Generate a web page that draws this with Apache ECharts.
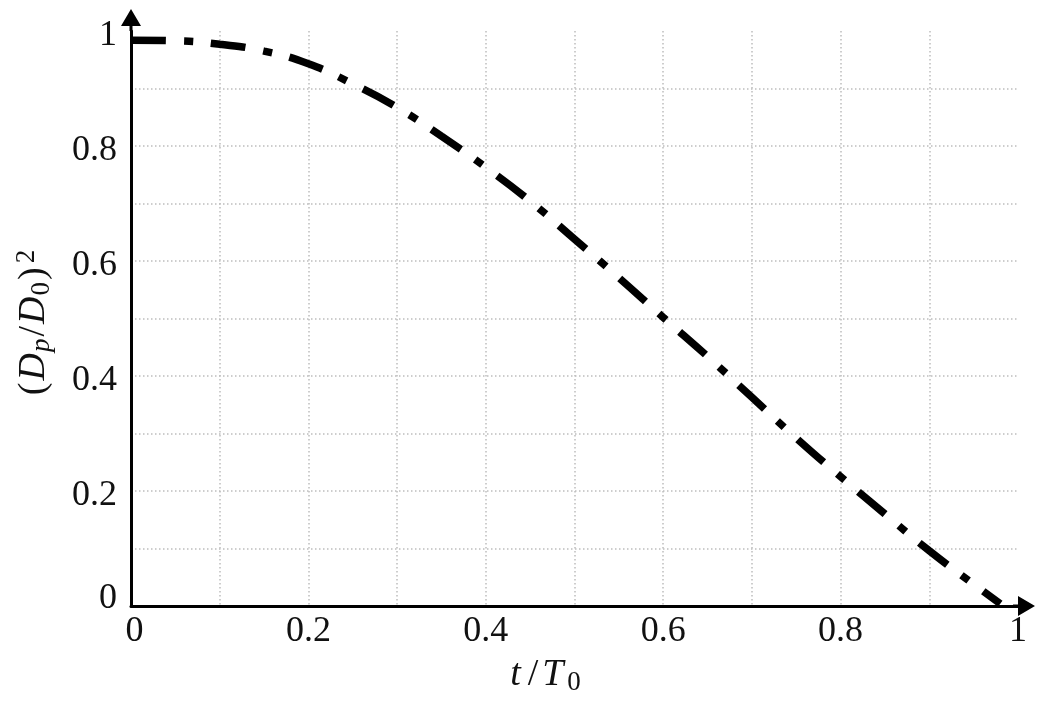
<!DOCTYPE html>
<html>
<head>
<meta charset="utf-8">
<script src="https://cdn.jsdelivr.net/npm/echarts@6/dist/echarts.min.js"></script>
<style>html,body{margin:0;padding:0;background:#fff;}#chart{width:1050px;height:705px;}</style>
</head>
<body>
<div id="chart"></div>
<script>
// t / T0 sample positions
var tValues = [0, 0.05, 0.1, 0.15, 0.2, 0.25, 0.3, 0.35, 0.4, 0.45, 0.5, 0.55, 0.6, 0.65, 0.7, 0.75, 0.8, 0.85, 0.9, 0.95, 0.98];
// (Dp/D0)^2 values
var dpValues = [0.984, 0.983, 0.977, 0.965, 0.943, 0.908, 0.867, 0.817, 0.763, 0.704, 0.638, 0.571, 0.502, 0.434, 0.363, 0.292, 0.225, 0.160, 0.096, 0.038, 0.004];
var xTickLabels = ['0', '0.2', '0.4', '0.6', '0.8', '1'];
var yTickLabels = ['0', '0.2', '0.4', '0.6', '0.8', '1'];

var seriesData = tValues.map(function (t, i) { return [t, dpValues[i]]; });
var SERIF = '"Liberation Serif", "DejaVu Serif", serif';
var arrowPath = 'path://M0,17 L10,0 L20,17 L11.5,17 L11.5,22 L8.5,22 L8.5,17 Z';

function tickFmt(labels, firstStyle, otherStyle) {
  return function (v) {
    var k = Math.round(v * 10);
    if (k % 2 !== 0) return '';
    var s = labels[k / 2];
    if (s === undefined) return '';
    return '{' + (k === 0 ? firstStyle : otherStyle) + '|' + s + '}';
  };
}
function lbl(extra) {
  var o = {fontFamily: SERIF, fontSize: 36, color: '#111'};
  for (var k in extra) o[k] = extra[k];
  return o;
}

var chart = echarts.init(document.getElementById('chart'), null, {renderer: 'canvas'});
chart.setOption({
  backgroundColor: '#ffffff',
  animation: false,
  grid: {left: 131, right: 32, top: 31, bottom: 99, containLabel: false, outerBoundsMode: 'none'},
  xAxis: {
    type: 'value', min: 0, max: 1, interval: 0.1,
    axisLine: {show: true, onZero: false, symbol: ['none', arrowPath], symbolSize: [20, 22], symbolOffset: [0, 6],
      lineStyle: {color: '#000', width: 3}},
    axisTick: {show: false},
    axisLabel: {formatter: tickFmt(xTickLabels, 'z', 'n'), fontFamily: SERIF, fontSize: 36, color: '#111', margin: 8,
      showMinLabel: true, showMaxLabel: true,
      rich: {n: lbl({}), z: lbl({padding: [0, 0, 0, 7]})}},
    splitLine: {show: true, showMinLine: false, showMaxLine: false,
      lineStyle: {color: '#bdbdbd', width: 1.5, type: [1.5, 2.5]}},
    name: '{it|t}{r|/}{i|T}{s|0}',
    nameLocation: 'middle', nameGap: 48,
    nameTextStyle: {
      padding: [0, 58, 0, 0],
      rich: {
        it: {fontFamily: SERIF, fontStyle: 'italic', fontSize: 38, color: '#111', lineHeight: 42, padding: [0, 3, 0, 0]},
        i: {fontFamily: SERIF, fontStyle: 'italic', fontSize: 38, color: '#111', lineHeight: 42, padding: [0, 4, 0, 0]},
        r: {fontFamily: SERIF, fontSize: 38, color: '#111', lineHeight: 42, padding: [0, 4, 0, 4]},
        s: {fontFamily: SERIF, fontSize: 27, color: '#111', lineHeight: 26, verticalAlign: 'bottom'}
      }
    }
  },
  yAxis: {
    type: 'value', min: 0, max: 1, interval: 0.1,
    axisLine: {show: true, onZero: false, symbol: ['none', arrowPath], symbolSize: [20, 22], symbolOffset: [0, 11],
      lineStyle: {color: '#000', width: 3}},
    axisTick: {show: false},
    axisLabel: {formatter: tickFmt(yTickLabels, 'z', 'n'), fontFamily: SERIF, fontSize: 36, color: '#111', margin: 14,
      showMinLabel: true, showMaxLabel: true,
      rich: {n: lbl({padding: [10, 0, 0, 0]}), z: lbl({padding: [0, 0, 14, 0]})}},
    splitLine: {show: true, showMinLine: false, showMaxLine: false,
      lineStyle: {color: '#bdbdbd', width: 1.5, type: [1.5, 2.5]}},
    name: '{r|(}{i|D}{si|p}{r|/}{i|D}{s|0}{r|)}{u|2}',
    nameLocation: 'middle', nameGap: 76, nameRotate: 90,
    nameTextStyle: {
      padding: [0, 10, 0, 0],
      rich: {
        i: {fontFamily: SERIF, fontStyle: 'italic', fontSize: 38, color: '#111', lineHeight: 42, padding: [0, 1, 0, 0]},
        r: {fontFamily: SERIF, fontSize: 38, color: '#111', lineHeight: 42, padding: [0, 2, 0, 2]},
        s: {fontFamily: SERIF, fontSize: 27, color: '#111', lineHeight: 26, verticalAlign: 'bottom'},
        si: {fontFamily: SERIF, fontStyle: 'italic', fontSize: 27, color: '#111', lineHeight: 26, verticalAlign: 'bottom'},
        u: {fontFamily: SERIF, fontSize: 27, color: '#111', lineHeight: 26, verticalAlign: 'top', padding: [0, 0, 0, 2]}
      }
    }
  },
  series: [{
    type: 'line',
    data: seriesData,
    smooth: 0.5,
    smoothMonotone: 'none',
    symbol: 'none',
    clip: false,
    lineStyle: {color: '#000', width: 7.5, type: [35, 18, 9, 18], cap: 'butt'}
  }]
});
</script>
</body>
</html>
